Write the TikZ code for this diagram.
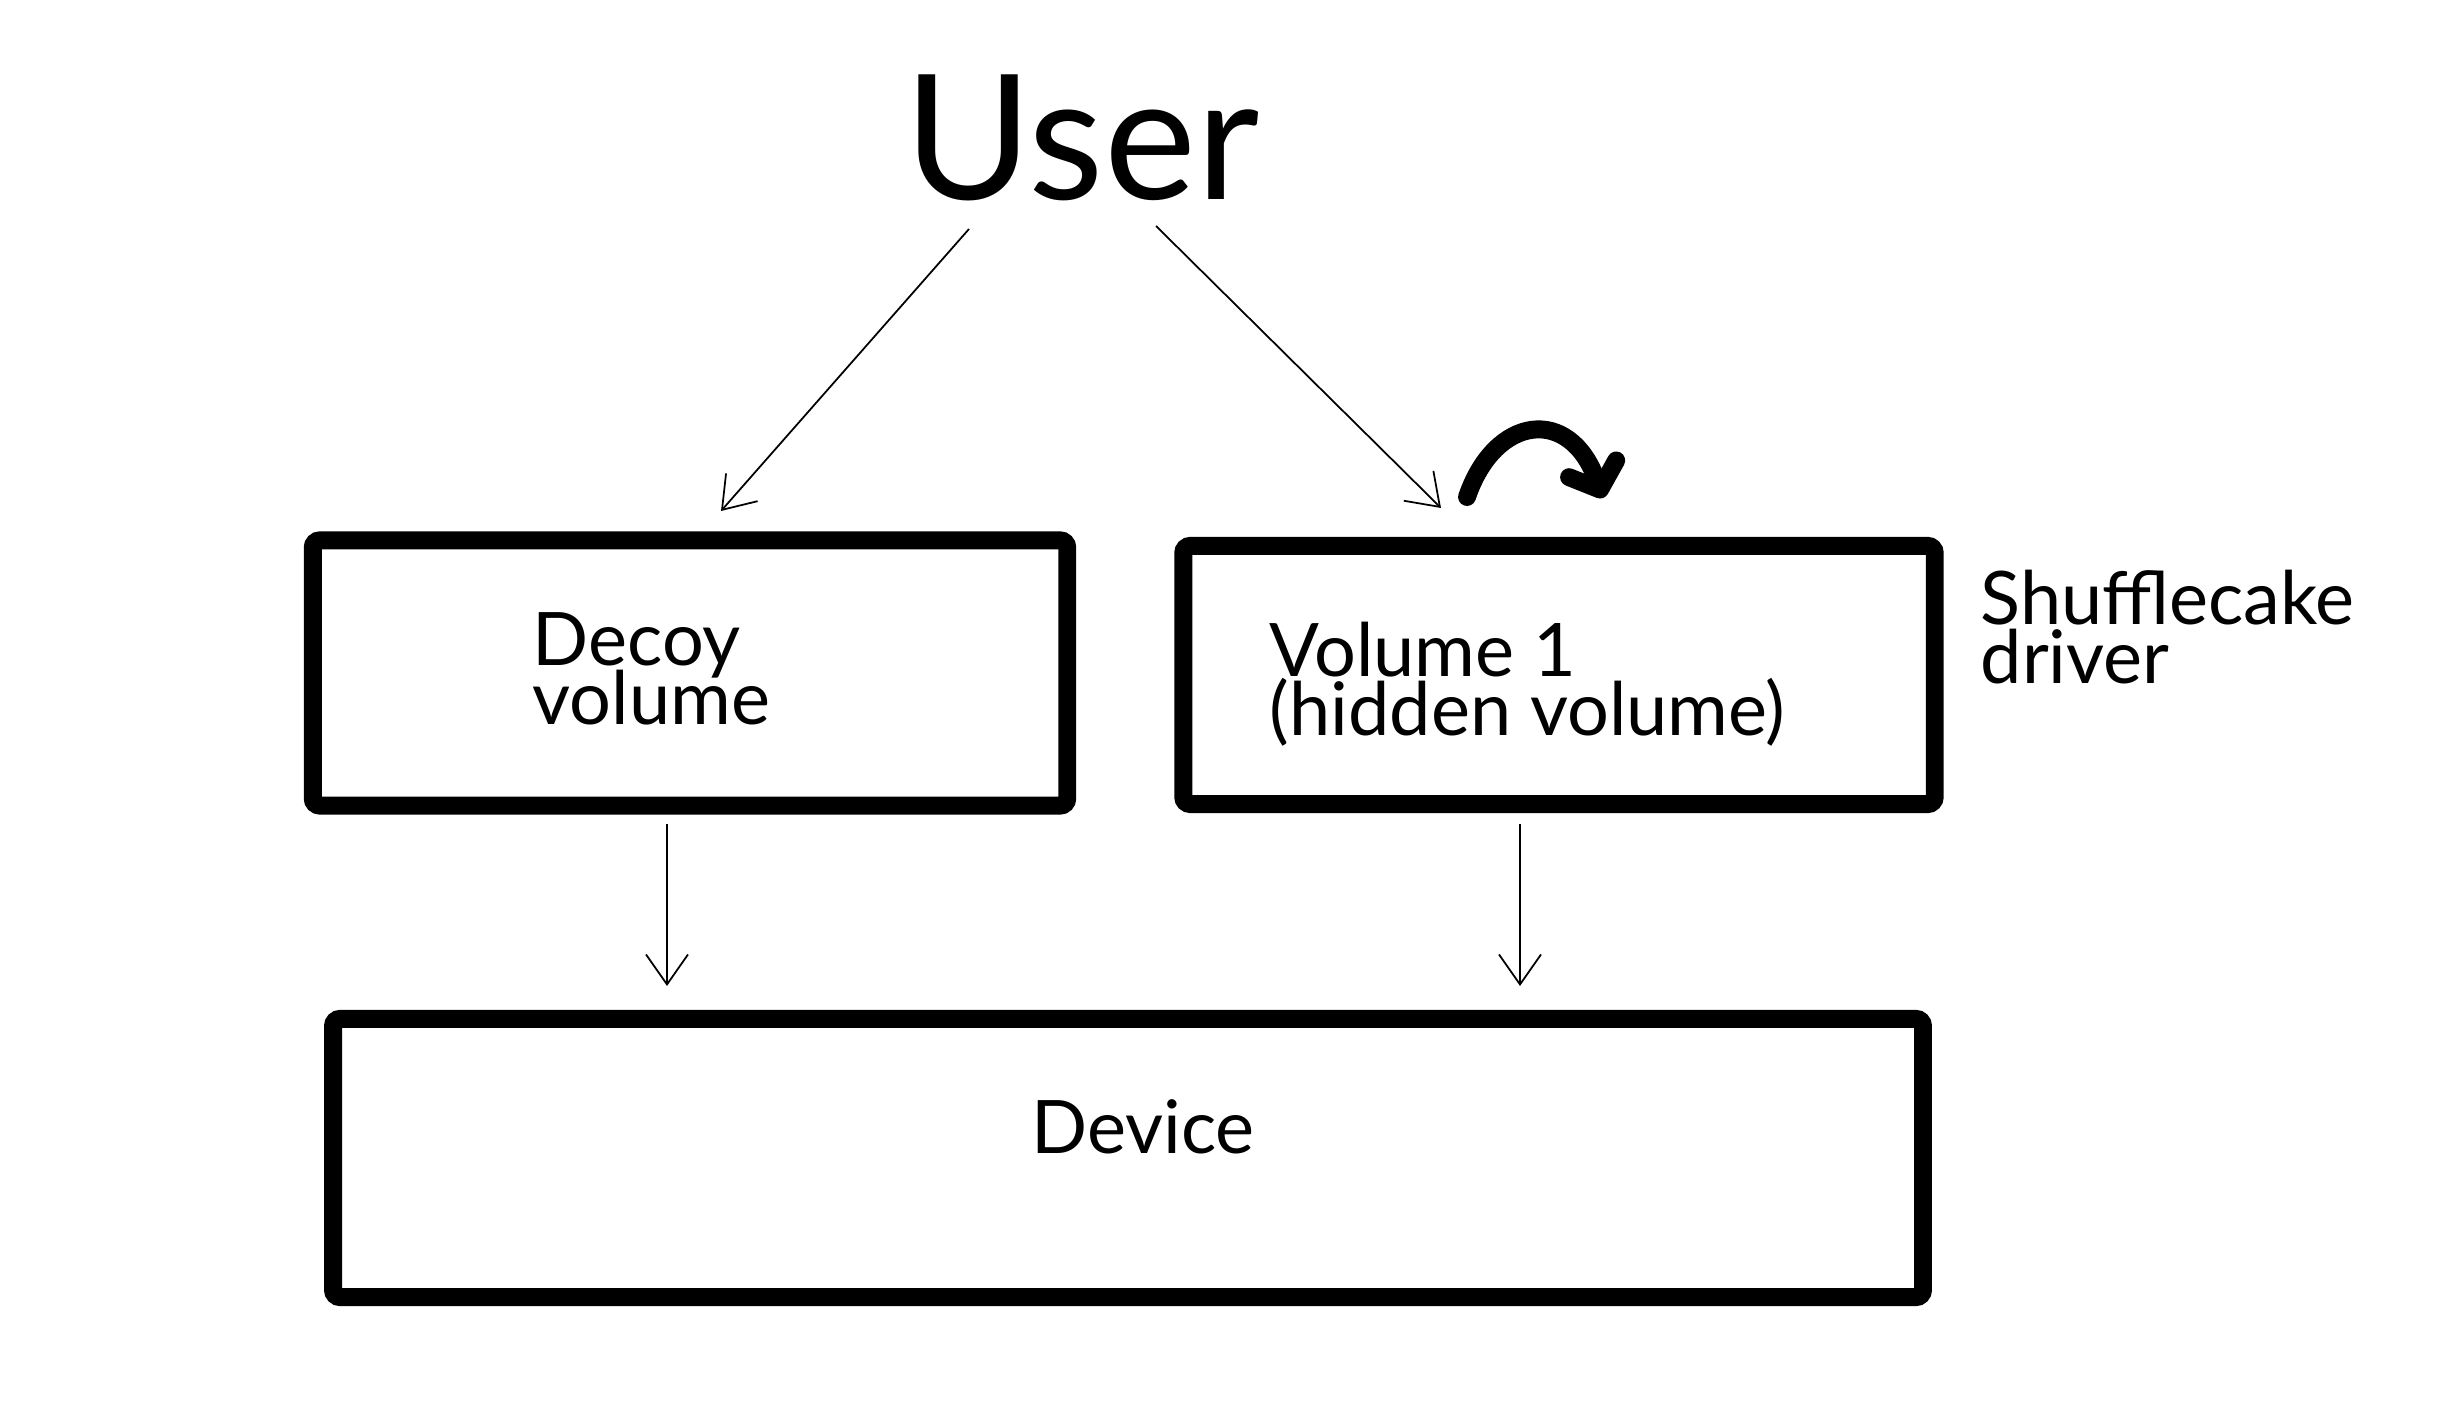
\documentclass[tikz,border=0pt]{standalone}
\usepackage{fontspec}
\setmainfont{Lato}
\usetikzlibrary{positioning}
\usetikzlibrary{arrows.meta}
\newcommand\tightlines{\fontsize{21}{16.8}\selectfont\lineskiplimit=-\maxdimen\lineskip=0pt\relax}
\tikzset{
block/.style = {draw, line width=5.1pt, rounded corners=2pt, rectangle, inner sep=0pt},
label/.style = {inner sep=0pt, align=left, font=\tightlines},
tmp/.style = {coordinate},
thin arrow/.style = {->, line width=0.5pt},
jump/.style = {-{Straight Barb[length=0.22cm, width=0.5cm, round]}, line width=5.1pt, line cap=round}
}

\begin{document}
\begin{tikzpicture}[x=0.01cm, y=-0.01cm, >={Straight Barb[length=0.3cm, width=0.42cm]}]
    \useasboundingbox (0,0) rectangle (2439,1410);
    % We start by placing the blocks
    \node [font=\fontsize{49.5}{49.5}\selectfont, inner sep=0pt] (user) at (1082,138) {User};
    \node [block, minimum width=7.54cm, minimum height=2.65cm] (decoy) at (690,673) {};
    \node [block, minimum width=7.51cm, minimum height=2.58cm] (vol) at (1559,675) {};
    \node [block, minimum width=15.89cm, minimum height=2.78cm] (dev) at (1128,1158) {};
    \node [label, anchor=base west] (decoytxt) at (532,725) {Decoy\\volume};
    \node [label, anchor=base west] (voltxt) at (1269,736) {Volume 1\\(hidden volume)};
    \node [label, anchor=base west] (driver) at (1980,684) {Shufflecake\\driver};
    \node [label, anchor=base] (devtxt) at (1143,1153) {Device};

    % free ends of the connectors
    \node [tmp] (u1) at (969,229) {};
    \node [tmp] (u2) at (1156,226) {};
    \node [tmp] (d1) at (721,511) {};
    \node [tmp] (v1) at (1441,508) {};
    \node [tmp] (d2) at (667,824) {};
    \node [tmp] (d3) at (667,986) {};
    \node [tmp] (v2) at (1520,824) {};
    \node [tmp] (v3) at (1520,986) {};
    \node [tmp] (j1) at (1467,497) {};
    \node [tmp] (j2) at (1603,498) {};

    % Once the nodes are placed, connecting them is easy.
    \draw [thin arrow] (u1) -- (d1);
    \draw [thin arrow] (u2) -- (v1);
    \draw [thin arrow] (d2) -- (d3);
    \draw [thin arrow] (v2) -- (v3);
    \draw [jump] (j1) .. controls (1495,415) and (1570,405) .. (j2);
\end{tikzpicture}
\end{document}
